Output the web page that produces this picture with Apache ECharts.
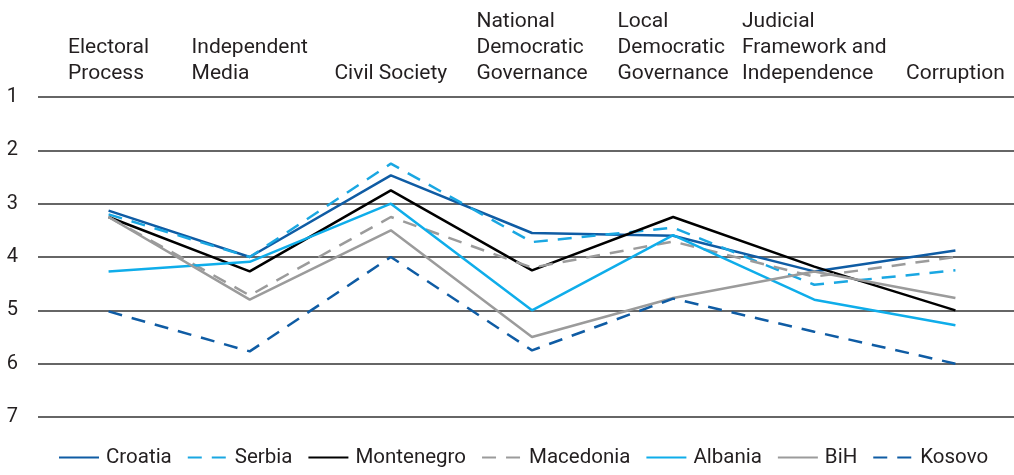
<!DOCTYPE html>
<html>
<head>
<meta charset="utf-8">
<script src="https://cdn.jsdelivr.net/npm/echarts@6/dist/echarts.min.js"></script>
<style>
  html, body { margin: 0; padding: 0; background: #fff; }
  #chart { width: 1014px; height: 475px; }
</style>
</head>
<body>
<div id="chart"></div>
<script>
var categories = ['Electoral\nProcess', 'Independent\nMedia', 'Civil Society',
  'National\nDemocratic\nGovernance', 'Local\nDemocratic\nGovernance',
  'Judicial\nFramework and\nIndependence', 'Corruption'];
var yTicks = [1, 2, 3, 4, 5, 6, 7];

var croatia    = [3.13, 4.0, 2.47, 3.55, 3.6, 4.27, 3.88];
var serbia     = [3.2, 4.0, 2.25, 3.72, 3.45, 4.52, 4.25];
var montenegro = [3.25, 4.27, 2.75, 4.25, 3.25, 4.18, 5.0];
var macedonia  = [3.25, 4.72, 3.25, 4.2, 3.71, 4.37, 4.0];
var albania    = [4.27, 4.09, 3.0, 5.0, 3.59, 4.8, 5.28];
var bih        = [3.25, 4.8, 3.5, 5.5, 4.77, 4.27, 4.77];
var kosovo     = [5.02, 5.77, 4.0, 5.75, 4.78, 5.4, 6.0];

var fontFam = 'Roboto, "Liberation Sans", sans-serif';
var txt = '#231f20';

function line(name, data, color, dashed) {
  return {
    name: name,
    type: 'line',
    data: data,
    symbol: 'none',
    lineStyle: { color: color, width: 2.5, type: dashed ? [14, 10] : 'solid' },
    itemStyle: { color: color }
  };
}

var chart = echarts.init(document.getElementById('chart'));
chart.setOption({
  animation: false,
  grid: { left: 38, width: 988, top: 97, bottom: 58, outerBoundsMode: 'none' },
  legend: {
    bottom: 2,
    left: 53,
    itemWidth: 40,
    itemHeight: 14,
    itemGap: 15,
    itemStyle: { opacity: 0 },   // hide the little circle on the legend line
    textStyle: { fontFamily: fontFam, fontSize: 20.5, color: txt, padding: [0, 0, 0, 2] }
  },
  xAxis: {
    type: 'category',
    position: 'top',
    data: categories,
    boundaryGap: true,
    axisLine: { show: false },
    axisTick: { show: false },
    axisLabel: {
      interval: 0,
      margin: 10,
      verticalAlign: 'bottom',
      formatter: function (v) { return '{a|' + v.split('\n').join('}\n{a|') + '}'; },
      rich: {
        a: { align: 'left', fontFamily: fontFam, fontSize: 21, lineHeight: 26, color: txt }
      }
    }
  },
  yAxis: {
    type: 'value',
    inverse: true,
    min: yTicks[0],
    max: yTicks[yTicks.length - 1],
    interval: 1,
    axisLine: { show: false },
    axisTick: { show: false },
    axisLabel: { margin: 20, fontFamily: fontFam, fontSize: 20, color: txt },
    splitLine: { lineStyle: { color: '#333', width: 1.5 } }
  },
  series: [
    line('Croatia', croatia, '#0f5ca4', false),
    line('Serbia', serbia, '#1aa7e2', true),
    line('Montenegro', montenegro, '#000000', false),
    line('Macedonia', macedonia, '#9b9b9b', true),
    line('Albania', albania, '#0fadea', false),
    line('BiH', bih, '#9b9b9b', false),
    line('Kosovo', kosovo, '#0f5ca4', true)
  ]
});
</script>
</body>
</html>
